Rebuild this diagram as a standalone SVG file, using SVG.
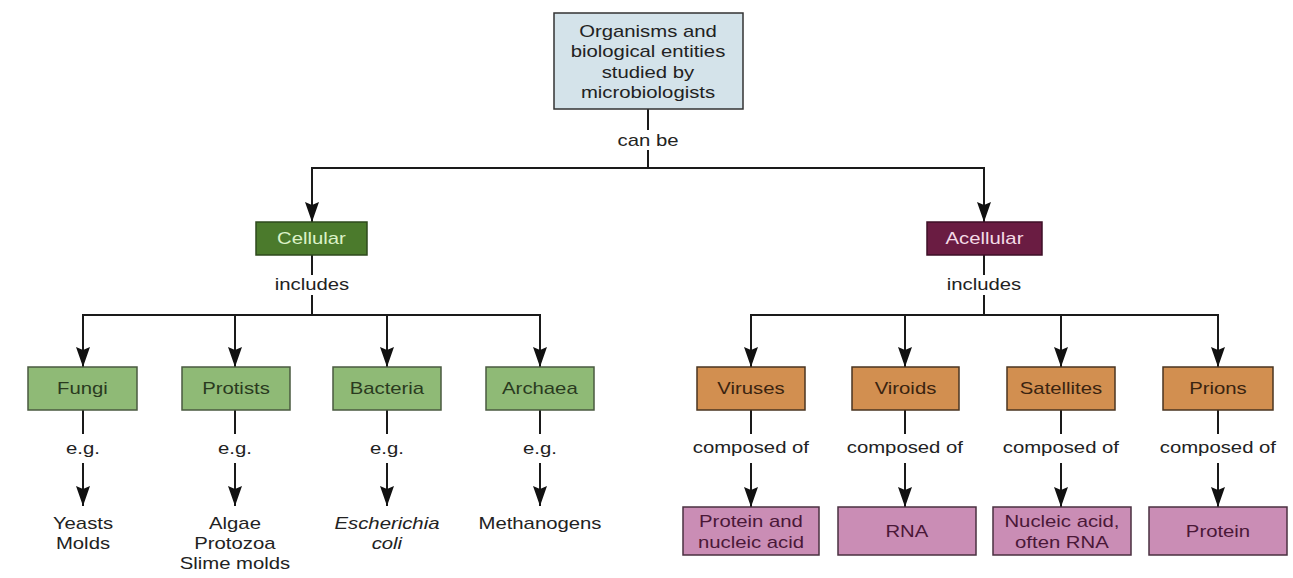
<svg xmlns="http://www.w3.org/2000/svg" width="1293" height="578" viewBox="0 0 1293 578">
<defs>
<style>
.t{font-family:"Liberation Sans",Arial,sans-serif;font-size:16px;text-anchor:middle;fill:#222;transform-box:fill-box;transform-origin:50% 50%;transform:scaleX(1.27)}
.it{font-style:italic}
.ln{stroke:#1a1a1a;stroke-width:2;fill:none}
.ar{marker-end:url(#ah)}
.top{fill:#d4e3ea;stroke:#333;stroke-width:1.5}
.cel{fill:#4b7a2c;stroke:#2e4a1c;stroke-width:1.5}
.acel{fill:#6a1c42;stroke:#3e0f27;stroke-width:1.5}
.grn{fill:#8fba76;stroke:#4a5a40;stroke-width:1.5}
.org{fill:#d28f50;stroke:#4a3520;stroke-width:1.5}
.pnk{fill:#ca8db5;stroke:#4a3040;stroke-width:1.5}
.lg{fill:#dcf2c8}
.lp{fill:#f4dbe6}
.dg{fill:#2a3a1f}
.do{fill:#3a2410}
.dp{fill:#4a1838}
</style>
<marker id="ah" viewBox="0 0 20 14" refX="20" refY="7" markerWidth="20" markerHeight="14" orient="auto" markerUnits="userSpaceOnUse">
<path d="M0,0 L20,7 L0,14 L3,7 z" fill="#111"/>
</marker>
</defs>
<rect width="1293" height="578" fill="#ffffff"/>

<g id="connectors">
<line class="ln" x1="648" y1="109" x2="648" y2="130"/>
<line class="ln" x1="648" y1="150" x2="648" y2="168"/>
<polyline class="ln" points="312,221 312,168 984,168 984,221"/>
<line class="ln ar" x1="312" y1="180" x2="312" y2="222"/>
<line class="ln ar" x1="984" y1="180" x2="984" y2="222"/>

<line class="ln" x1="312" y1="255" x2="312" y2="275"/>
<line class="ln" x1="312" y1="295" x2="312" y2="315"/>
<line class="ln" x1="83" y1="315" x2="540" y2="315"/>
<line class="ln ar" x1="83" y1="314" x2="83" y2="367"/>
<line class="ln ar" x1="235" y1="314" x2="235" y2="367"/>
<line class="ln ar" x1="387" y1="314" x2="387" y2="367"/>
<line class="ln ar" x1="540" y1="314" x2="540" y2="367"/>

<line class="ln" x1="984" y1="255" x2="984" y2="275"/>
<line class="ln" x1="984" y1="295" x2="984" y2="315"/>
<line class="ln" x1="751" y1="315" x2="1218" y2="315"/>
<line class="ln ar" x1="751" y1="314" x2="751" y2="367"/>
<line class="ln ar" x1="905" y1="314" x2="905" y2="367"/>
<line class="ln ar" x1="1061" y1="314" x2="1061" y2="367"/>
<line class="ln ar" x1="1218" y1="314" x2="1218" y2="367"/>

<line class="ln" x1="83" y1="410" x2="83" y2="434"/>
<line class="ln ar" x1="83" y1="463" x2="83" y2="506"/>
<line class="ln" x1="235" y1="410" x2="235" y2="434"/>
<line class="ln ar" x1="235" y1="463" x2="235" y2="506"/>
<line class="ln" x1="387" y1="410" x2="387" y2="434"/>
<line class="ln ar" x1="387" y1="463" x2="387" y2="506"/>
<line class="ln" x1="540" y1="410" x2="540" y2="434"/>
<line class="ln ar" x1="540" y1="463" x2="540" y2="506"/>

<line class="ln" x1="751" y1="410" x2="751" y2="434"/>
<line class="ln ar" x1="751" y1="463" x2="751" y2="507"/>
<line class="ln" x1="905" y1="410" x2="905" y2="434"/>
<line class="ln ar" x1="905" y1="463" x2="905" y2="507"/>
<line class="ln" x1="1061" y1="410" x2="1061" y2="434"/>
<line class="ln ar" x1="1061" y1="463" x2="1061" y2="507"/>
<line class="ln" x1="1218" y1="410" x2="1218" y2="434"/>
<line class="ln ar" x1="1218" y1="463" x2="1218" y2="507"/>
</g>

<g id="labels">
<text class="t" x="648" y="146">can be</text>
<text class="t" x="312" y="290">includes</text>
<text class="t" x="984" y="290">includes</text>
<text class="t" x="83" y="454">e.g.</text>
<text class="t" x="235" y="454">e.g.</text>
<text class="t" x="387" y="454">e.g.</text>
<text class="t" x="540" y="454">e.g.</text>
<text class="t" x="751" y="453">composed of</text>
<text class="t" x="905" y="453">composed of</text>
<text class="t" x="1061" y="453">composed of</text>
<text class="t" x="1218" y="453">composed of</text>
</g>

<g id="node-root">
<rect class="top" x="554" y="13" width="189" height="96"/>
<text class="t" x="648" y="37">Organisms and</text>
<text class="t" x="648" y="57.5">biological entities</text>
<text class="t" x="648" y="78">studied by</text>
<text class="t" x="648" y="98">microbiologists</text>
</g>

<g id="node-cellular">
<rect class="cel" x="256" y="222" width="111" height="33"/>
<text class="t lg" x="311.5" y="244">Cellular</text>
</g>
<g id="node-acellular">
<rect class="acel" x="927" y="222" width="115" height="33"/>
<text class="t lp" x="984.5" y="244">Acellular</text>
</g>

<g id="node-fungi">
<rect class="grn" x="28" y="367" width="109" height="43"/>
<text class="t dg" x="82.5" y="394">Fungi</text>
</g>
<g id="node-protists">
<rect class="grn" x="182" y="367" width="108" height="43"/>
<text class="t dg" x="236" y="394">Protists</text>
</g>
<g id="node-bacteria">
<rect class="grn" x="333" y="367" width="108" height="43"/>
<text class="t dg" x="387" y="394">Bacteria</text>
</g>
<g id="node-archaea">
<rect class="grn" x="486" y="367" width="108" height="43"/>
<text class="t dg" x="540" y="394">Archaea</text>
</g>

<g id="node-yeasts">
<text class="t" x="83" y="529">Yeasts</text>
<text class="t" x="83" y="549">Molds</text>
</g>
<g id="node-algae">
<text class="t" x="235" y="529">Algae</text>
<text class="t" x="235" y="549">Protozoa</text>
<text class="t" x="235" y="569">Slime molds</text>
</g>
<g id="node-ecoli">
<text class="t it" x="387" y="529">Escherichia</text>
<text class="t it" x="387" y="549">coli</text>
</g>
<g id="node-methanogens">
<text class="t" x="540" y="529">Methanogens</text>
</g>

<g id="node-viruses">
<rect class="org" x="697" y="367" width="108" height="43"/>
<text class="t do" x="751" y="394">Viruses</text>
</g>
<g id="node-viroids">
<rect class="org" x="852" y="367" width="107" height="43"/>
<text class="t do" x="905.5" y="394">Viroids</text>
</g>
<g id="node-satellites">
<rect class="org" x="1007" y="367" width="108" height="43"/>
<text class="t do" x="1061" y="394">Satellites</text>
</g>
<g id="node-prions">
<rect class="org" x="1163" y="367" width="110" height="43"/>
<text class="t do" x="1218" y="394">Prions</text>
</g>

<g id="node-protein-nucleic">
<rect class="pnk" x="683" y="507" width="136" height="48"/>
<text class="t dp" x="751" y="527">Protein and</text>
<text class="t dp" x="751" y="548">nucleic acid</text>
</g>
<g id="node-rna">
<rect class="pnk" x="838" y="507" width="138" height="48"/>
<text class="t dp" x="907" y="537">RNA</text>
</g>
<g id="node-nucleic-rna">
<rect class="pnk" x="993" y="507" width="138" height="48"/>
<text class="t dp" x="1062" y="527">Nucleic acid,</text>
<text class="t dp" x="1062" y="548">often RNA</text>
</g>
<g id="node-protein">
<rect class="pnk" x="1149" y="507" width="138" height="48"/>
<text class="t dp" x="1218" y="537">Protein</text>
</g>
</svg>
